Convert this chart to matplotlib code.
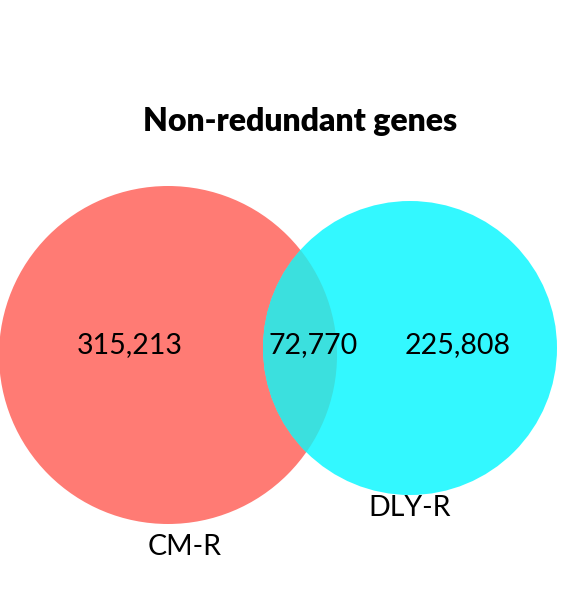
import matplotlib
matplotlib.use("Agg")
import matplotlib.pyplot as plt
from matplotlib.patches import Circle

sets = ["CM-R", "DLY-R"]
counts = ["315,213", "72,770", "225,808"]
title = "Non-redundant genes"

plt.rcParams['font.family'] = ['Lato', 'DejaVu Sans']
fig = plt.figure(figsize=(5.66, 6.03), dpi=100)
ax = fig.add_axes([0, 0, 1, 1])
ax.set_xlim(0, 566); ax.set_ylim(603, 0); ax.axis('off')

red = Circle((168, 355), 169, color='#FF7B74', lw=0)
cyan = Circle((410, 348), 147, color='#33F8FF', lw=0)
ax.add_patch(red); ax.add_patch(cyan)
inter = Circle((410, 348), 147, color='#3BE0DE', lw=0)
ax.add_patch(inter)
clip = Circle((168, 355), 169, transform=ax.transData)
inter.set_clip_path(clip)

ax.text(300, 121, title, ha='center', va='center', fontsize=23, fontweight='heavy')
ax.text(130, 345, counts[0], ha='center', va='center', fontsize=20.5)
ax.text(313, 345, counts[1], ha='center', va='center', fontsize=20.5)
ax.text(458, 345, counts[2], ha='center', va='center', fontsize=20.5)
ax.text(185, 547, sets[0], ha='center', va='center', fontsize=20.5)
ax.text(410, 508, sets[1], ha='center', va='center', fontsize=20.5)
fig.savefig("out.png", dpi=100)
